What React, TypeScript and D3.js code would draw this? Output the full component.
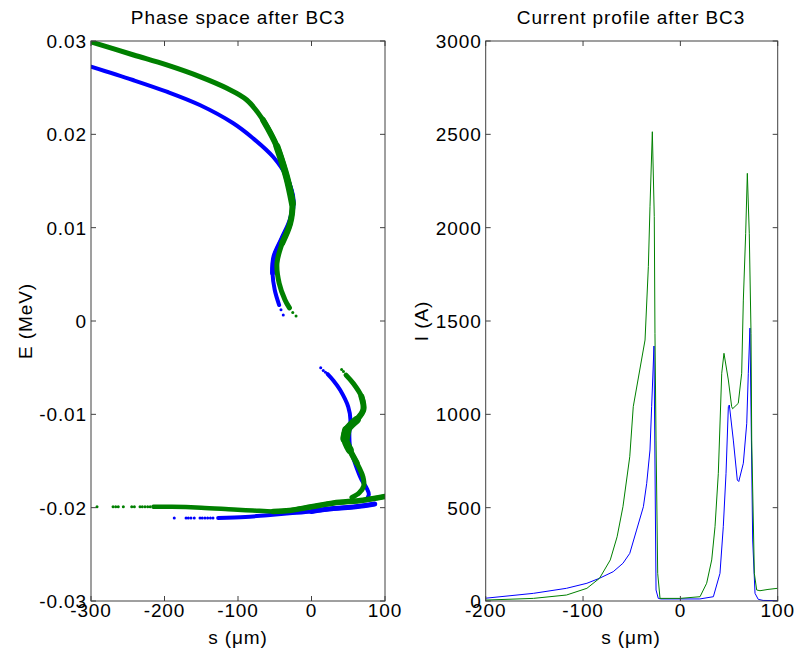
import React from "react";
import * as d3 from "d3";

// ---------- Left panel: phase space (s in µm, E in MeV) ----------
const blueUpperBand: [number, number][] = [
  [-300, 0.02725], [-243, 0.02582], [-197, 0.02457], [-152, 0.02314], [-107, 0.02121],
  [-80, 0.01961], [-52, 0.01757], [-34, 0.01546], [-25, 0.01296], [-29, 0.01082],
  [-40, 0.00886], [-51, 0.00689], [-53, 0.00511], [-50, 0.00332], [-44, 0.00171],
];
const blueUpperDots: [number, number][] = [[-41.5, 0.0012], [-38.4, 0.00064]];

const greenUpperBand: [number, number][] = [
  [-300, 0.0299], [-242, 0.0285], [-197, 0.02743], [-152, 0.02618], [-115, 0.02493],
  [-88, 0.02368], [-66, 0.02154], [-47, 0.01868], [-34, 0.01546], [-26, 0.01261],
  [-29, 0.01047], [-40, 0.00832], [-47, 0.00618], [-44, 0.00404], [-36, 0.00225], [-30, 0.0014],
];
const greenUpperDots: [number, number][] = [[-25.5, 0.0009], [-21, 0.00054]];

const blueLowerBand: [number, number][] = [
  [22, -0.0057], [30, -0.0064], [39, -0.0074], [50, -0.0092], [53, -0.0106], [51.5, -0.012],
  [52.5, -0.0135], [59, -0.0152], [68, -0.017], [75, -0.0179], [78, -0.0186], [74, -0.0192],
];
const blueLowerDots: [number, number][] = [[12.5, -0.005], [16, -0.0053], [19, -0.0055]];

const greenLowerBand: [number, number][] = [
  [47, -0.0058], [57, -0.0067], [68, -0.0081], [70.6, -0.0095], [61.5, -0.0106], [48, -0.0117],
  [45.6, -0.0126], [52, -0.0138], [61.5, -0.0152], [70, -0.0167], [71, -0.0177], [65, -0.0184], [55, -0.0189],
];
const greenLowerDots: [number, number][] = [[41, -0.0052], [43.5, -0.0054]];

const blueBottomBand: [number, number][] = [
  [86, -0.0196], [60, -0.0199], [30, -0.0201], [0, -0.0204], [-30, -0.0206],
  [-60, -0.0208], [-90, -0.021], [-127, -0.0211],
];
const blueBottomDotsS: number[] = [-186.7, -170.7, -167.6, -164, -159.5, -151.7, -148.6, -145, -141.3, -137.5, -134];
const blueBottomDotsE = -0.0211;

const greenBottomBand: [number, number][] = [
  [100, -0.0188], [70, -0.0192], [30, -0.0195], [0, -0.0199], [-30, -0.0203], [-52, -0.0204],
  [-80, -0.0203], [-106, -0.0202], [-150, -0.02], [-190, -0.0199], [-215, -0.0199],
];
const greenBottomDotsS: number[] = [-291.8, -270, -266.4, -262.9, -256, -244.6, -241, -233.3, -230.2, -226.5, -222.9, -219.5];
const greenBottomDotsE = -0.0199;

const leftXTicks = [-300, -200, -100, 0, 100];
const leftXLabels = ["-300", "-200", "-100", "0", "100"];
const leftYTicks = [-0.03, -0.02, -0.01, 0, 0.01, 0.02, 0.03];
const leftYLabels = ["-0.03", "-0.02", "-0.01", "0", "0.01", "0.02", "0.03"];

// ---------- Right panel: current profile ----------
const blueS = [-200, -151, -117, -96, -83, -69, -59, -52, -45, -38, -34.6, -31.2, -29.5, -27.1, -25, -22.7, -20, 0, 20, 33.9, 40.7, 44.1, 46.9, 49.3, 50.3, 54.4, 58.5, 60, 64.7, 68.2, 69.8, 71.5, 74.3, 76.7, 80, 85, 100];
const blueI = [15, 41, 68, 95, 122, 157, 202, 255, 380, 505, 630, 809, 1041, 1366, 59, 14, 11, 11, 11, 23, 148, 398, 684, 1041, 1050, 862, 648, 640, 738, 952, 1220, 1462, 327, 41, 9, 3, 2];

const greenS = [-200, -151, -117, -96, -83, -72, -65, -59, -52, -48.4, -36.3, -32.9, -31.2, -28.8, -26.8, -26.1, -25, -23.3, -20.9, 0, 20.2, 27, 32.2, 35.6, 39, 42.5, 44.8, 49.3, 52.7, 53.7, 59.5, 63, 64.7, 67.1, 68.8, 70.8, 72.6, 73.3, 76, 78.4, 81.8, 90, 100];
const greenI = [5, 14, 32, 68, 122, 220, 344, 505, 773, 1041, 1398, 1791, 2112, 2514, 2059, 1434, 862, 148, 14, 14, 23, 95, 220, 398, 684, 1220, 1327, 1184, 1041, 1030, 1059, 1220, 1612, 1970, 2291, 1970, 1434, 862, 148, 59, 55, 62, 68];

const rightXTicks = [-200, -100, 0, 100];
const rightXLabels = ["-200", "-100", "0", "100"];
const rightYTicks = [0, 500, 1000, 1500, 2000, 2500, 3000];
const rightYLabels = ["0", "500", "1000", "1500", "2000", "2500", "3000"];

const BLUE = "#0000ff";
const GREEN = "#008000";
const AXIS = "#404040";
const FONT = "'Liberation Sans', Arial, sans-serif";
const FS = 19;
const LS = 0.9;

type Scale = d3.ScaleLinear<number, number>;

function Axes({ x, y, xt, xl, yt, yl }: { x: Scale; y: Scale; xt: number[]; xl: string[]; yt: number[]; yl: string[] }) {
  const [x0, x1] = x.range();
  const [y0, y1] = y.range(); // y0 bottom, y1 top
  const tl = 5;
  return (
    <g>
      <rect x={x0} y={y1} width={x1 - x0} height={y0 - y1} fill="none" stroke={AXIS} strokeWidth={1} />
      {xt.map((t, i) => (
        <g key={"x" + i}>
          <line x1={x(t)} x2={x(t)} y1={y0} y2={y0 - tl} stroke={AXIS} />
          <line x1={x(t)} x2={x(t)} y1={y1} y2={y1 + tl} stroke={AXIS} />
          <text x={x(t)} y={617} textAnchor="middle" fontSize={FS} letterSpacing={LS} fill="#000">{xl[i]}</text>
        </g>
      ))}
      {yt.map((t, i) => (
        <g key={"y" + i}>
          <line x1={x0} x2={x0 + tl} y1={y(t)} y2={y(t)} stroke={AXIS} />
          <line x1={x1} x2={x1 - tl} y1={y(t)} y2={y(t)} stroke={AXIS} />
          <text x={x0 - 4} y={y(t)} dy="0.36em" textAnchor="end" fontSize={FS} letterSpacing={LS} fill="#000">{yl[i]}</text>
        </g>
      ))}
    </g>
  );
}

export default function App() {
  const xL = d3.scaleLinear().domain([-300, 100]).range([91, 385]);
  const yL = d3.scaleLinear().domain([-0.03, 0.03]).range([601, 41]);
  const xR = d3.scaleLinear().domain([-200, 100]).range([485.7, 777.7]);
  const yR = d3.scaleLinear().domain([0, 3000]).range([601, 41]);

  const band = d3.line<[number, number]>().x((d) => xL(d[0])).y((d) => yL(d[1])).curve(d3.curveCatmullRom.alpha(0.5));
  const prof = d3.line<[number, number]>().x((d) => xR(d[0])).y((d) => yR(d[1]));

  const bluePts = blueS.map((s, i) => [s, blueI[i]] as [number, number]);
  const greenPts = greenS.map((s, i) => [s, greenI[i]] as [number, number]);

  const dots = (pts: [number, number][], color: string, key: string) =>
    pts.map((p, i) => <circle key={key + i} cx={xL(p[0])} cy={yL(p[1])} r={1.5} fill={color} />);

  const stroke = (pts: [number, number][], color: string, w: number) => (
    <path d={band(pts) || ""} fill="none" stroke={color} strokeWidth={w} strokeLinecap="round" strokeLinejoin="round" />
  );

  return (
    <svg width={798} height={655} style={{ position: "absolute", left: 0, top: 0, background: "#fff" }} fontFamily={FONT}>
      <rect x={0} y={0} width={798} height={655} fill="#fff" />
      <defs>
        <clipPath id="clipL"><rect x={91} y={41} width={294} height={560} /></clipPath>
        <clipPath id="clipR"><rect x={485.7} y={41} width={292} height={560} /></clipPath>
      </defs>
      {/* left panel */}
      <g clipPath="url(#clipL)">
        {stroke(blueUpperBand, BLUE, 4)}
        {stroke(blueUpperBand.slice(7, 13), BLUE, 5)}
        {stroke(blueLowerBand, BLUE, 4)}
        {stroke(blueBottomBand, BLUE, 4)}
        {stroke(blueBottomBand.slice(0, 4), BLUE, 5)}
        {dots(blueUpperDots, BLUE, "bu")}
        {dots(blueLowerDots, BLUE, "bl")}
        {dots(blueBottomDotsS.map((s) => [s, blueBottomDotsE] as [number, number]), BLUE, "bb")}
        {stroke(greenUpperBand, GREEN, 5)}
        {stroke(greenUpperBand.slice(6, 12), GREEN, 6)}
        {stroke(greenUpperBand.slice(7, 10), GREEN, 7)}
        {stroke(greenLowerBand, GREEN, 5)}
        {stroke(greenLowerBand.slice(2, 9), GREEN, 6)}
        {stroke(greenLowerBand.slice(4, 8), GREEN, 8)}
        {stroke(greenLowerBand.slice(5, 7), GREEN, 9.5)}
        {stroke(greenBottomBand, GREEN, 4.5)}
        {stroke(greenBottomBand.slice(0, 6), GREEN, 5.5)}
        {dots(greenUpperDots, GREEN, "gu")}
        {dots(greenLowerDots, GREEN, "gl")}
        {dots(greenBottomDotsS.map((s) => [s, greenBottomDotsE] as [number, number]), GREEN, "gb")}
      </g>
      <Axes x={xL} y={yL} xt={leftXTicks} xl={leftXLabels} yt={leftYTicks} yl={leftYLabels} />
      <text x={238} y={24} textAnchor="middle" fontSize={FS} letterSpacing={LS}>Phase space after BC3</text>
      <text x={238} y={644} textAnchor="middle" fontSize={FS} letterSpacing={LS}>s (μm)</text>
      <text transform="translate(32,321) rotate(-90)" textAnchor="middle" fontSize={FS} letterSpacing={LS}>E (MeV)</text>

      {/* right panel */}
      <g clipPath="url(#clipR)">
        <path d={prof(bluePts) || ""} fill="none" stroke={BLUE} strokeWidth={1} />
        <path d={prof(greenPts) || ""} fill="none" stroke={GREEN} strokeWidth={1} />
      </g>
      <Axes x={xR} y={yR} xt={rightXTicks} xl={rightXLabels} yt={rightYTicks} yl={rightYLabels} />
      <text x={631} y={24} textAnchor="middle" fontSize={FS} letterSpacing={LS}>Current profile after BC3</text>
      <text x={631} y={644} textAnchor="middle" fontSize={FS} letterSpacing={LS}>s (μm)</text>
      <text transform="translate(428,321) rotate(-90)" textAnchor="middle" fontSize={FS} letterSpacing={LS}>I (A)</text>
    </svg>
  );
}
